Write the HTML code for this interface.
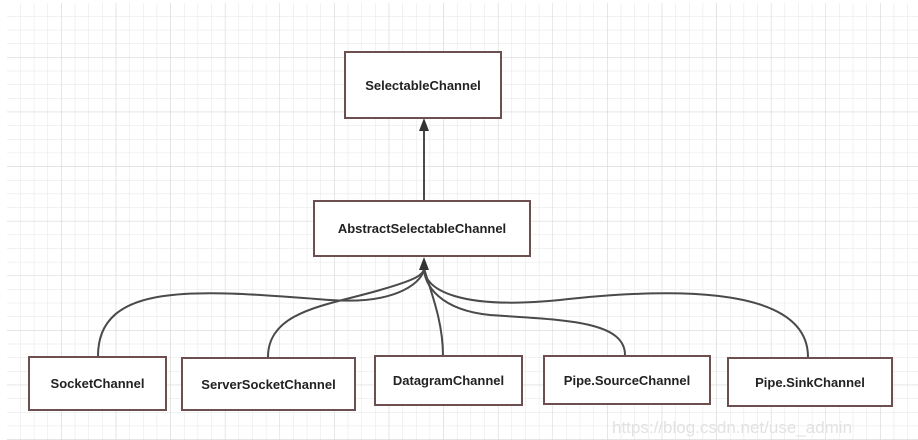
<!DOCTYPE html>
<html><head><meta charset="utf-8"><style>
body{margin:0;width:918px;height:440px;overflow:hidden;background:#fff;font-family:"Liberation Sans",sans-serif}
.b{position:absolute;box-sizing:border-box;border:2px solid #6e4f4f;background:#fff;display:flex;align-items:center;justify-content:center;font-weight:bold;font-size:13px;color:#222}
</style></head><body>
<svg width="918" height="440" style="position:absolute;left:0;top:0">
<defs>
<pattern id="g" x="7" y="3" width="13.65" height="13.65" patternUnits="userSpaceOnUse"><path d="M13.65 0V13.65M0 13.65H13.65" stroke="#e4e4e4" stroke-width="1" fill="none"/></pattern>
<pattern id="G" x="7" y="3" width="54.6" height="54.6" patternUnits="userSpaceOnUse"><path d="M54.6 0V54.6M0 54.6H54.6" stroke="#d6d6d6" stroke-width="1" fill="none"/></pattern>
</defs>
<rect x="7" y="3" width="911" height="437" fill="url(#g)"/>
<rect x="7" y="3" width="911" height="437" fill="url(#G)"/>
<g stroke="#4a4a4a" stroke-width="2" fill="none">
<line x1="424" y1="200" x2="424" y2="130"/>
<path d="M98 356 C98 280 200 290 330 300 C400 305 424 280 424 268"/>
<path d="M268 357 C268 310 330 305 380 290 C415 280 424 275 424 268"/>
<path d="M443 356 C443 320 430 290 424 268"/>
<path d="M625 355 C625 320 560 320 490 315 C440 310 424 285 424 268"/>
<path d="M808 357 C808 280 650 290 560 300 C460 310 424 290 424 268"/>
</g>
<polygon points="424,118 419,131 429,131" fill="#333"/>
<polygon points="424,257 419,270 429,270" fill="#333"/>
</svg>
<div class="b" style="left:344px;top:51px;width:158px;height:68px">SelectableChannel</div>
<div class="b" style="left:313px;top:200px;width:218px;height:57px">AbstractSelectableChannel</div>
<div class="b" style="left:28px;top:356px;width:139px;height:55px">SocketChannel</div>
<div class="b" style="left:181px;top:357px;width:175px;height:54px">ServerSocketChannel</div>
<div class="b" style="left:374px;top:355px;width:149px;height:51px">DatagramChannel</div>
<div class="b" style="left:543px;top:355px;width:168px;height:50px">Pipe.SourceChannel</div>
<div class="b" style="left:727px;top:357px;width:166px;height:50px">Pipe.SinkChannel</div>
<div style="position:absolute;left:612px;top:418px;font-size:17px;color:#e2e2e2">https://blog.csdn.net/use_admin</div>
</body></html>
